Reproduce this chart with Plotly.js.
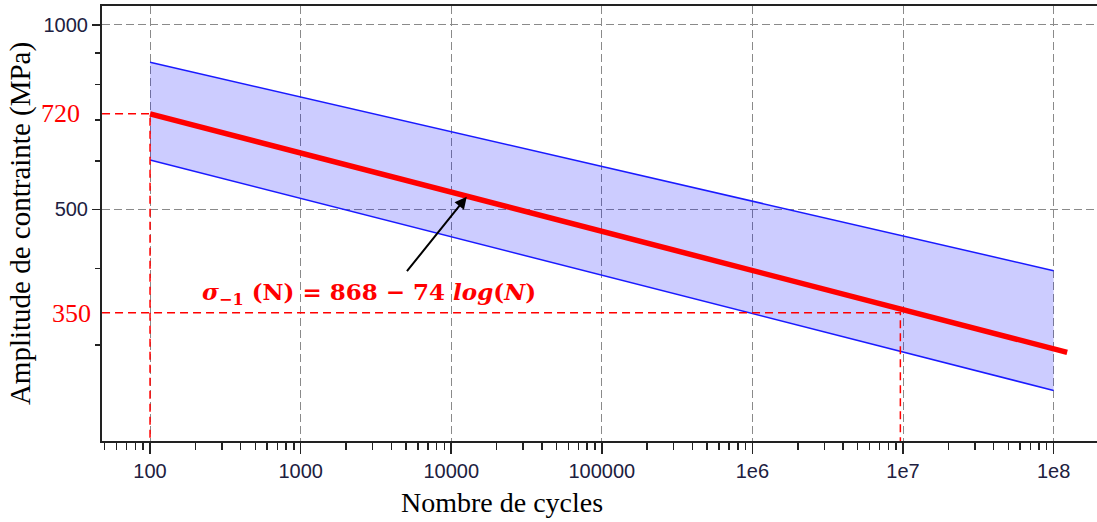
<!DOCTYPE html>
<html>
<head>
<meta charset="utf-8">
<script src="https://cdn.plot.ly/plotly-3.0.1.min.js"></script>
<style>html,body{margin:0;padding:0;background:#fff;}#chart{width:1097px;height:522px;}</style>
</head>
<body>
<div id="chart"></div>
<script>
// Data
const bandCycles = [100, 1e8];
const upperStress = [869, 397];
const lowerStress = [602, 253];
const meanCycles = [100, 1.23e8];
const meanStress = [716, 292];
const axisMinCycles = 48;
const axisMinStress = 209;
const refCycles = [100, 9.6e6];
const refStress = [716, 339];
const refLabels = ['720', '350'];
const xTickVals = [100, 1e3, 1e4, 1e5, 1e6, 1e7, 1e8];
const xTickText = ['100', '1000', '10000', '100000', '1e6', '1e7', '1e8'];
const yTickVals = [500, 1000];
const yTickText = ['500', '1000'];
const yMinorVals = [300, 400, 600, 700, 800, 900];
const xMinorVals = [];
for (let d = 10; d <= 1e8; d *= 10) {
  for (let m = 2; m <= 9; m++) xMinorVals.push(m * d);
}

const traces = [
  {x: bandCycles, y: lowerStress, mode: 'lines', line: {color: '#1a1aff', width: 1.5}, hoverinfo: 'skip'},
  {x: bandCycles, y: upperStress, mode: 'lines', line: {color: '#1a1aff', width: 1.5},
   fill: 'tonexty', fillcolor: 'rgba(0,0,255,0.2)', hoverinfo: 'skip'},
  {x: [axisMinCycles, refCycles[0], refCycles[0]], y: [refStress[0], refStress[0], axisMinStress],
   mode: 'lines', line: {color: '#ff0000', width: 1.5, dash: '8px,5px'}, hoverinfo: 'skip'},
  {x: [axisMinCycles, refCycles[1], refCycles[1]], y: [refStress[1], refStress[1], axisMinStress],
   mode: 'lines', line: {color: '#ff0000', width: 1.5, dash: '8px,5px'}, hoverinfo: 'skip'},
  {x: meanCycles, y: meanStress, mode: 'lines', line: {color: '#ff0000', width: 5.5}, hoverinfo: 'skip'}
];

const tickFont = {family: 'Liberation Sans, Arial, sans-serif', size: 20, color: '#202040'};
const serif = 'Liberation Serif, Times New Roman, serif';

const layout = {
  width: 1097, height: 522,
  margin: {l: 102, r: 0, t: 6, b: 81},
  paper_bgcolor: '#ffffff', plot_bgcolor: '#ffffff',
  showlegend: false,
  xaxis: {
    type: 'log', range: [1.681, 8.288],
    tickmode: 'array', tickvals: xTickVals, ticktext: xTickText,
    ticks: 'outside', ticklen: 11, tickwidth: 1.5, tickcolor: '#222',
    tickfont: tickFont,
    showline: true, linecolor: '#222', linewidth: 2, mirror: true,
    showgrid: true, gridcolor: '#8a8a8a', gridwidth: 1, griddash: '8px,4px',
    zeroline: false,
    minor: {tickmode: 'array', tickvals: xMinorVals, ticks: 'outside', ticklen: 7, tickwidth: 1.5, tickcolor: '#222', showgrid: false}
  },
  yaxis: {
    type: 'log', range: [2.3206, 3.031],
    tickmode: 'array', tickvals: yTickVals, ticktext: yTickText,
    ticks: 'outside', ticklen: 8, tickwidth: 1.5, tickcolor: '#222',
    tickfont: tickFont,
    showline: true, linecolor: '#222', linewidth: 2, mirror: false,
    showgrid: true, gridcolor: '#8a8a8a', gridwidth: 1, griddash: '8px,4px',
    zeroline: false,
    title: {text: 'Amplitude de contrainte (MPa)', font: {family: serif, size: 29, color: '#000'}, standoff: 4},
    minor: {tickmode: 'array', tickvals: yMinorVals, ticks: 'outside', ticklen: 5, tickwidth: 1.5, tickcolor: '#222', showgrid: false}
  },
  annotations: [
    {text: 'Nombre de cycles', xref: 'paper', yref: 'paper', x: 0.402, y: -0.142,
     xanchor: 'center', yanchor: 'middle', showarrow: false,
     font: {family: serif, size: 28, color: '#000'}},
    {text: refLabels[0], xref: 'paper', yref: 'y', x: -0.042, y: Math.log10(refStress[0]),
     xanchor: 'center', yanchor: 'middle', showarrow: false,
     font: {family: serif, size: 26, color: '#ff0000'}},
    {text: refLabels[1], xref: 'paper', yref: 'y', x: -0.031, y: Math.log10(refStress[1]) - 0.002,
     xanchor: 'center', yanchor: 'middle', showarrow: false,
     font: {family: serif, size: 26, color: '#ff0000'}},
    {text: '<b><i>σ</i><sub>−1</sub> (N) = 868 − 74 <i>log</i>(<i>N</i>)</b>', xref: 'x', yref: 'y',
     x: 3.454, y: 2.5623, xanchor: 'center', yanchor: 'middle', showarrow: false,
     font: {family: 'DejaVu Serif, serif', size: 23, color: '#ff0000'}},
    {text: '', xref: 'x', yref: 'y', x: 4.103, y: 2.7196, showarrow: true,
     ax: -61, ay: 76, arrowhead: 2, arrowsize: 1.2, arrowwidth: 2, arrowcolor: '#000', standoff: 0}
  ]
};

Plotly.newPlot('chart', traces, layout, {staticPlot: true, displayModeBar: false});
</script>
</body>
</html>
